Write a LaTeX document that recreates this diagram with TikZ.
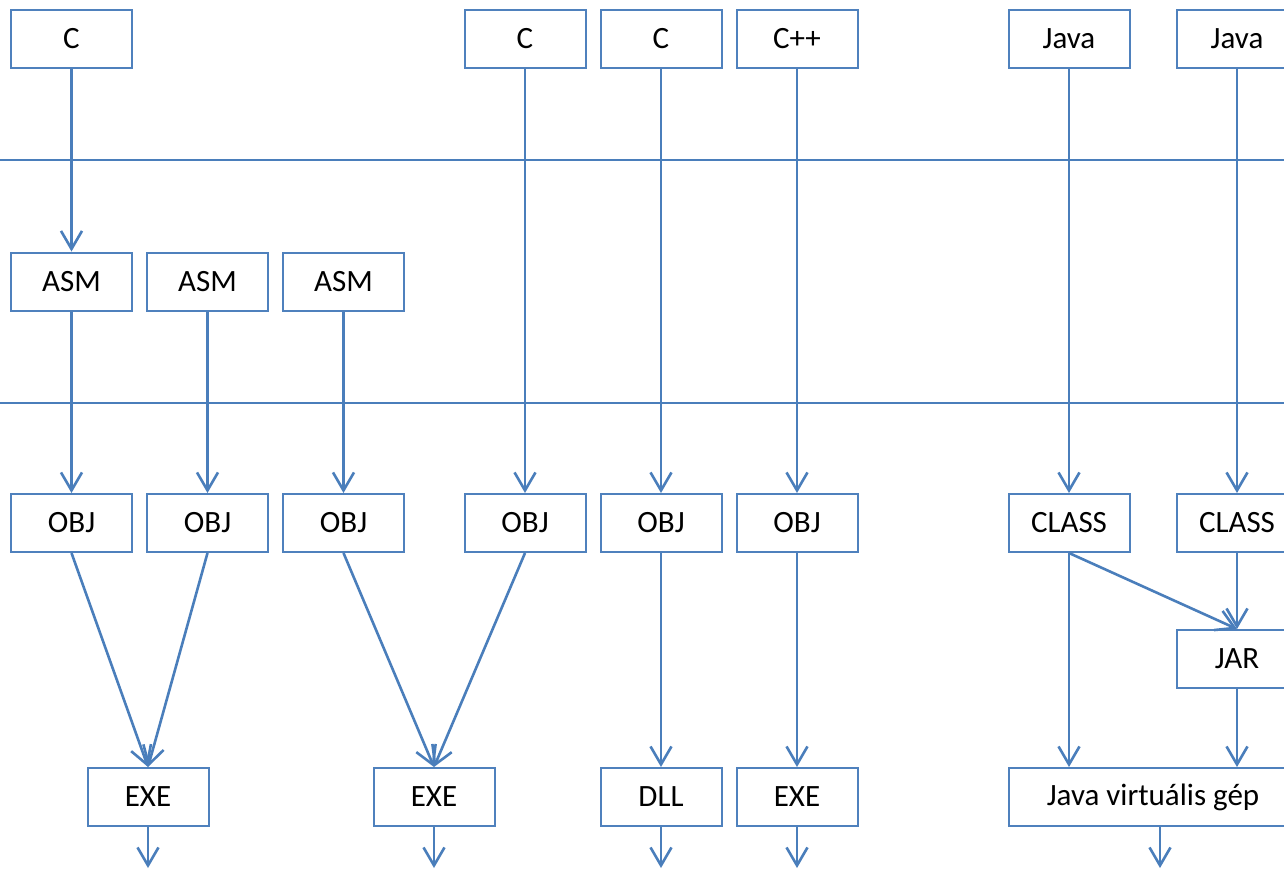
\documentclass[tikz,border=0pt]{standalone}
\usepackage{fontspec}
\setmainfont{Carlito}
\usetikzlibrary{arrows.meta}
\definecolor{boxblue}{HTML}{4F81BD}
\definecolor{lineblue}{HTML}{4A7EBB}
\tikzset{
  box/.style={draw=boxblue, line width=2pt, fill=white, minimum width=121pt, minimum height=58pt, inner sep=0pt, font=\fontsize{31}{36}\selectfont},
  flow/.style={draw=lineblue, line width=2.6pt, -{Straight Barb[length=18pt, width=21pt]}},
  level/.style={draw=lineblue, line width=1.5pt}
}
\begin{document}
\begin{tikzpicture}[x=1pt, y=-1pt]
        \useasboundingbox (0,0) rectangle (1284,868);
        \clip (0,0) rectangle (1284,868);

        % levels
        \coordinate (l1a) at (0,160);
        \coordinate (l1b) at (1284,160);
        \coordinate (l2a) at (0,403);
        \coordinate (l2b) at (1284,403);
        \draw[level] (l1a) -- (l1b);
        \draw[level] (l2a) -- (l2b);

        % sources
        \node[box] (c1) at (71.5, 39) {C};
        \node[box] (c2) at (525, 39) {C};
        \node[box] (c3) at (661, 39) {C};
        \node[box] (cpp) at (797, 39) {C++};
        \node[box] (java1) at (1069, 39) {Java};
        \node[box] (java2) at (1237, 39) {Java};

        % assembly
        \node[box] (asm1) at (71.5, 281.5) {ASM};
        \node[box] (asm2) at (207.5, 281.5) {ASM};
        \node[box] (asm3) at (343.5, 281.5) {ASM};

        % objects
        \node[box] (obj1) at (71.5, 523) {OBJ};
        \node[box] (obj2) at (207.5, 523) {OBJ};
        \node[box] (obj3) at (343.5, 523) {OBJ};
        \node[box] (obj4) at (525, 523) {OBJ};
        \node[box] (obj5) at (661, 523) {OBJ};
        \node[box] (obj6) at (797, 523) {OBJ};
        \node[box] (class1) at (1069, 523) {CLASS};
        \node[box] (class2) at (1237, 523) {CLASS};
        \node[box] (jar) at (1237, 659) {JAR};

        % results
        \node[box] (exe1) at (148, 797) {EXE};
        \node[box] (exe2) at (434, 797) {EXE};
        \node[box] (dll) at (661, 797) {DLL};
        \node[box] (exe3) at (797, 797) {EXE};
        \node[box, minimum width=288pt] (jvm) at (1153, 797) {Java virtuális gép};

        \coordinate (out1) at (148, 868);
        \coordinate (out2) at (434, 868);
        \coordinate (out3) at (661, 868);
        \coordinate (out4) at (797, 868);
        \coordinate (out5) at (1160, 868);

        \draw[flow] (c1) -- (asm1);
        \draw[flow] (asm1) -- (obj1);
        \draw[flow] (asm2) -- (obj2);
        \draw[flow] (asm3) -- (obj3);
        \draw[flow] (c2) -- (obj4);
        \draw[flow] (c3) -- (obj5);
        \draw[flow] (cpp) -- (obj6);
        \draw[flow] (java1) -- (class1);
        \draw[flow] (java2) -- (class2);

        \draw[flow] (obj1.south) -- (exe1.north);
        \draw[flow] (obj2.south) -- (exe1.north);
        \draw[flow] (obj3.south) -- (exe2.north);
        \draw[flow] (obj4.south) -- (exe2.north);
        \draw[flow] (obj5) -- (dll);
        \draw[flow] (obj6) -- (exe3);
        \draw[flow] (class1.south) -- (jar.north);
        \draw[flow] (class1.south) -- (class1.south |- jvm.north);
        \draw[flow] (class2) -- (jar);
        \draw[flow] (jar.south) -- (jar.south |- jvm.north);

        \draw[flow] (exe1) -- (out1);
        \draw[flow] (exe2) -- (out2);
        \draw[flow] (dll) -- (out3);
        \draw[flow] (exe3) -- (out4);
        \draw[flow] (jvm.south -| out5) -- (out5);

        \end{tikzpicture}
\end{document}
